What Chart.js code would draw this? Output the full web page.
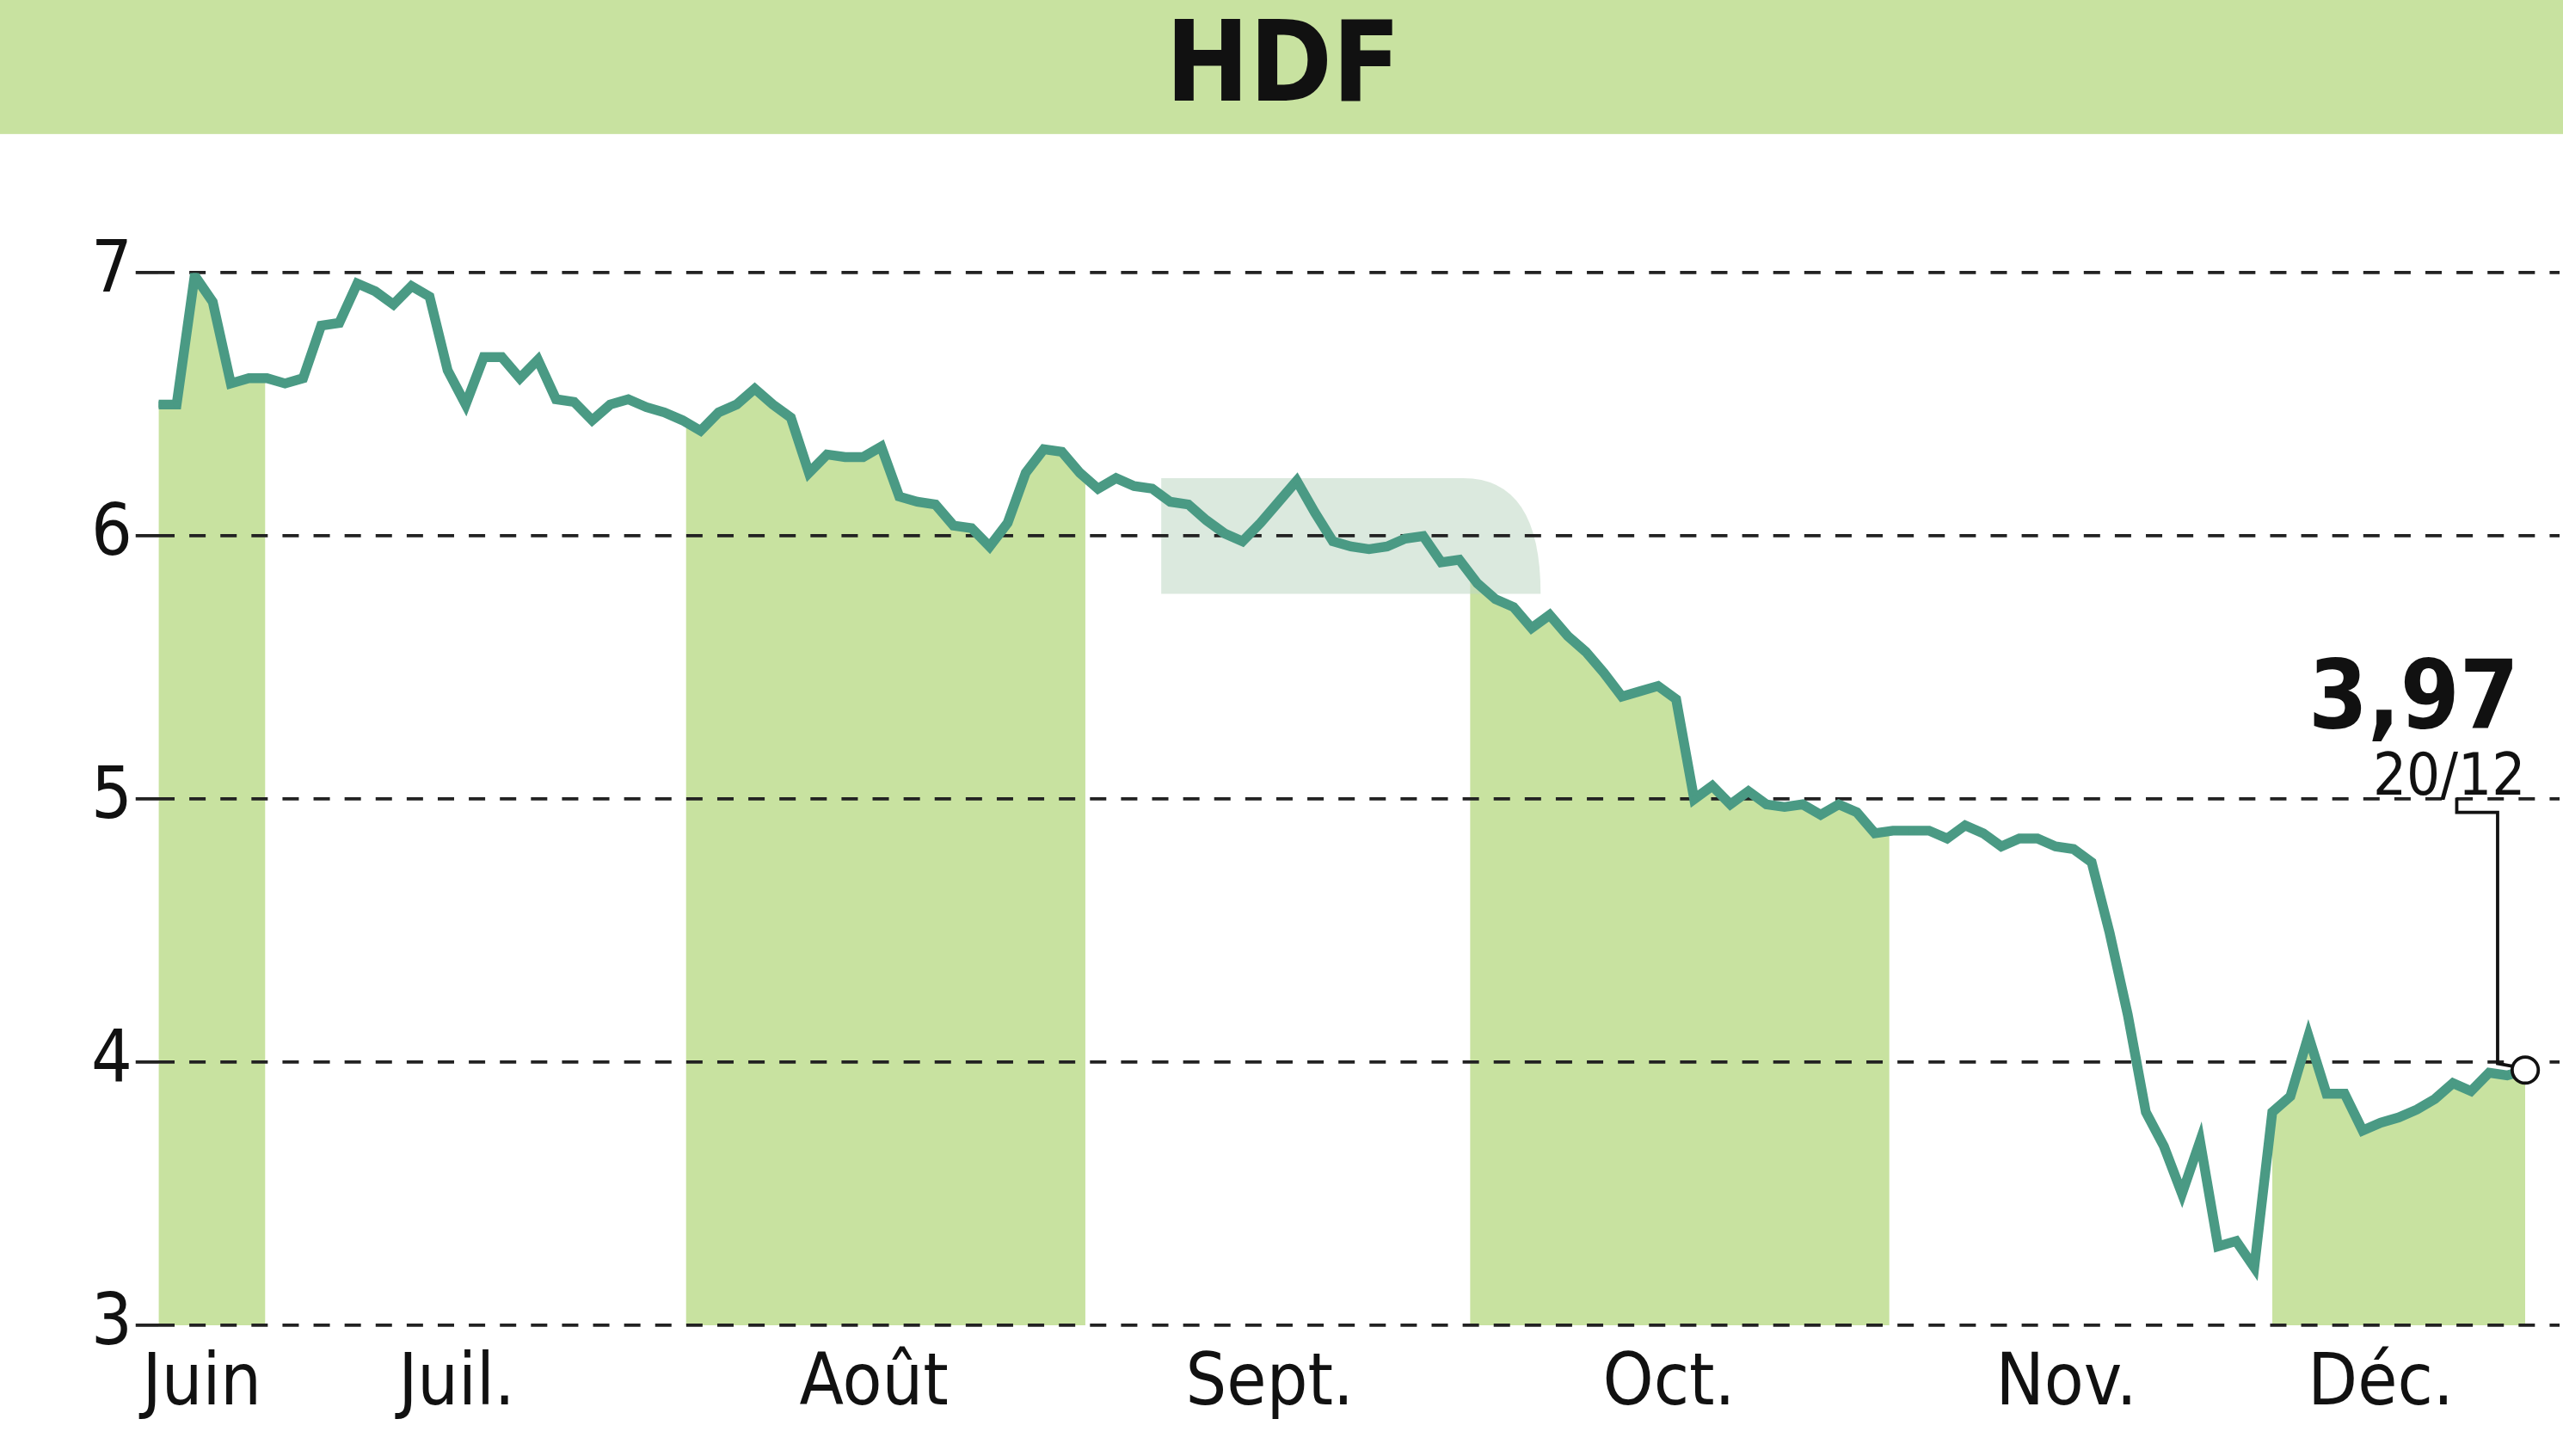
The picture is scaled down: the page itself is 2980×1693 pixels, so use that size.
<!DOCTYPE html>
<html><head><meta charset="utf-8">
<script src="https://cdn.jsdelivr.net/npm/chart.js@4"></script>
<style>html,body{margin:0;padding:0;background:#fff}#w{width:2980px;height:1693px;position:relative}</style>
</head><body><div id="w"><canvas id="c" width="2980" height="1693"></canvas></div>
<script>
const title = "HDF";
const prices = [6.50,6.50,6.99,6.89,6.58,6.60,6.60,6.58,6.60,6.80,6.81,6.96,6.93,6.88,6.95,6.91,6.63,6.50,6.68,6.68,6.60,6.67,6.52,6.51,6.44,6.50,6.52,6.49,6.47,6.44,6.40,6.47,6.50,6.56,6.50,6.45,6.24,6.31,6.30,6.30,6.34,6.15,6.13,6.12,6.04,6.03,5.96,6.05,6.24,6.33,6.32,6.24,6.18,6.22,6.19,6.18,6.13,6.12,6.06,6.01,5.98,6.05,6.13,6.21,6.09,5.98,5.96,5.95,5.96,5.99,6.00,5.90,5.91,5.82,5.76,5.73,5.65,5.70,5.62,5.56,5.48,5.39,5.41,5.43,5.38,5.00,5.05,4.98,5.03,4.98,4.97,4.98,4.94,4.98,4.95,4.87,4.88,4.88,4.88,4.85,4.90,4.87,4.82,4.85,4.85,4.82,4.81,4.76,4.49,4.18,3.81,3.68,3.50,3.70,3.30,3.32,3.22,3.81,3.87,4.10,3.88,3.88,3.74,3.77,3.79,3.82,3.86,3.92,3.89,3.96,3.95,3.97];
const monthNames = ["Juin","Juil.","Août","Sept.","Oct.","Nov.","Déc."];
const monthLabelIdx = [2.4,16.5,39.6,61.5,83.6,105.6,123];
const shadedBands = [[0,5.9],[29.2,51.3],[72.6,95.8],[117,131]];
const yTicks = [3,4,5,6,7];
const lastLabel = "3,97", lastDate = "20/12";

const s = 2980/1568;
const FONT = "'DejaVu Sans Condensed','DejaVu Sans',sans-serif";
const GREEN = "#c8e2a0", LINE = "#4a9a84";

const deco = {
  id:'deco',
  beforeDraw(ch){
    const c=ch.ctx, x=ch.scales.x, y=ch.scales.y, a=ch.chartArea;
    c.save();
    c.fillStyle="#fff"; c.fillRect(0,0,ch.width,ch.height);
    c.fillStyle=GREEN; c.fillRect(0,0,ch.width,82*s);
    c.fillStyle="#111"; c.font="bold "+(68*s)+"px "+FONT; c.textAlign="center"; c.textBaseline="middle";
    c.fillText(title, 785*s, 44*s);
    // area under line, clipped to alternating months
    shadedBands.forEach(b=>{
      const x0=x.getPixelForValue(b[0]),x1=x.getPixelForValue(b[1]);
      c.save(); c.beginPath(); c.rect(x0,0,x1-x0,a.bottom); c.clip();
      c.beginPath(); c.moveTo(x.getPixelForValue(0),a.bottom);
      prices.forEach((v,i)=>c.lineTo(x.getPixelForValue(i),y.getPixelForValue(v)));
      c.lineTo(x.getPixelForValue(prices.length-1),a.bottom); c.closePath();
      c.fillStyle=GREEN; c.fill(); c.restore();
    });
    // faint watermark
    c.fillStyle="rgba(190,215,195,0.55)";
    c.beginPath();
    const wx0=x.getPixelForValue(55.5), wx1=x.getPixelForValue(76.5), wy=y.getPixelForValue(6.22), wb=y.getPixelForValue(5.78);
    c.moveTo(wx0,wy); c.lineTo(wx1-90,wy); c.quadraticCurveTo(wx1,wy,wx1,wb); c.lineTo(wx0,wb); c.closePath(); c.fill();
    c.fillStyle="#111"; c.font=(44*s)+"px "+FONT; c.textAlign="center"; c.textBaseline="top";
    monthNames.forEach((m,i)=>c.fillText(m, x.getPixelForValue(monthLabelIdx[i]), 826*s));
    c.restore();
  },
  afterDatasetsDraw(ch){
    const c=ch.ctx, x=ch.scales.x, y=ch.scales.y;
    const n=prices.length-1, px=x.getPixelForValue(n), py=y.getPixelForValue(prices[n]);
    c.save();
    c.strokeStyle="#111"; c.lineWidth=2*s;
    c.beginPath(); c.moveTo(1503*s,488*s); c.lineTo(1503*s,497*s); c.lineTo(1528*s,497*s); c.lineTo(1528*s,py-4*s); c.lineTo(px-6*s,py-2*s); c.stroke();
    c.fillStyle="#fff"; c.lineWidth=2*s; c.beginPath(); c.arc(px,py,8*s,0,Math.PI*2); c.fill(); c.stroke();
    c.fillStyle="#111"; c.textAlign="right"; c.textBaseline="alphabetic";
    c.font="bold "+(58*s)+"px "+FONT; c.fillText(lastLabel,1541*s,445*s);
    c.font=(36*s)+"px "+FONT; c.fillText(lastDate,1545*s,486*s);
    c.restore();
  }
};

new Chart(document.getElementById('c'),{
  type:'line',
  data:{datasets:[{data:prices.map((v,i)=>({x:i,y:v})),borderColor:LINE,borderWidth:6*s,pointRadius:2*s,pointBackgroundColor:LINE,pointBorderWidth:0,tension:0,fill:false}]},
  options:{responsive:false,animation:false,devicePixelRatio:1,
    layout:{padding:{top:167*s,right:0,left:0,bottom:0}},
    plugins:{legend:{display:false},tooltip:{enabled:false}},
    scales:{
      x:{type:'linear',min:0,max:132.9,display:true,grid:{display:false},border:{display:false},ticks:{display:false},
        afterFit(sc){sc.height=80*s;}},
      y:{min:3,max:7,afterBuildTicks(sc){sc.ticks=yTicks.map(v=>({value:v}));},
        afterFit(sc){sc.width=97*s;},
        border:{display:false,dash:[10*s,9*s]},
        grid:{color:"#222",lineWidth:2*s,drawTicks:true,tickLength:14*s},
        ticks:{color:"#111",font:{size:44*s,family:FONT},padding:4}}
    }},
  plugins:[deco]
});
</script></body></html>
